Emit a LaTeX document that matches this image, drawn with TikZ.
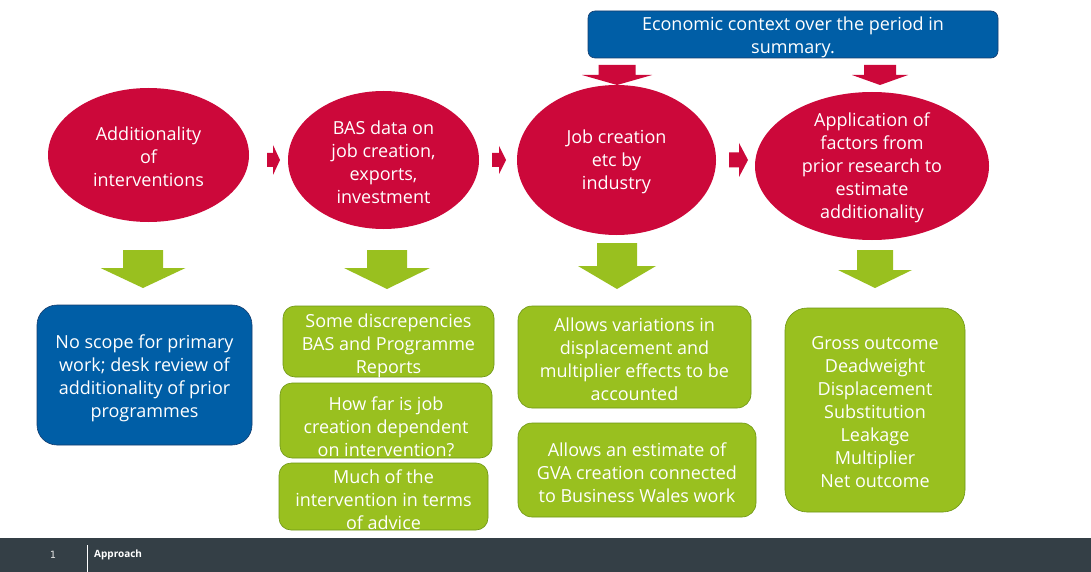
\documentclass[tikz,border=0pt]{standalone}
\usepackage{fontspec}
\setmainfont{Open Sans}
\setmonofont{DejaVu Sans Mono}
\usetikzlibrary{shapes.geometric}
\definecolor{flowred}{RGB}{204,8,58}
\definecolor{flowblue}{RGB}{0,94,166}
\definecolor{flowblueedge}{RGB}{20,60,110}
\definecolor{flowgreen}{RGB}{153,192,31}
\definecolor{flowgreenedge}{RGB}{110,150,20}
\definecolor{footbar}{RGB}{52,63,70}
% block arrow pointing down: style, centre x, top y, shaft half width, head half width, neck y, tip y
\newcommand\blockdown[7]{\fill[#1] (#2-#4,#3) -- (#2+#4,#3) -- (#2+#4,#6) -- (#2+#5,#6) -- (#2,#7) -- (#2-#5,#6) -- (#2-#4,#6) -- cycle;}
% block arrow pointing right: style, centre y, left x, shaft half height, head half height, neck x, tip x
\newcommand\blockright[7]{\fill[#1] (#3,#2-#4) -- (#6,#2-#4) -- (#6,#2-#5) -- (#7,#2) -- (#6,#2+#5) -- (#6,#2+#4) -- (#3,#2+#4) -- cycle;}
\tikzset{
  x=1pt, y=-1pt,
  every node/.style={font=\fontsize{18}{23}\selectfont, text=white, align=center},
  oval/.style={ellipse, fill=flowred, inner sep=0pt},
  bluebox/.style={rectangle, rounded corners=#1, fill=flowblue, draw=flowblueedge, line width=0.6pt, inner sep=0pt},
  greenbox/.style={rectangle, rounded corners=#1, fill=flowgreen, draw=flowgreenedge, line width=0.6pt, inner sep=0pt},
  label/.style={inner sep=0pt},
}
\begin{document}
\begin{tikzpicture}
\useasboundingbox (0,0) rectangle (1091,572);
\fill[white] (0,0) rectangle (1091,572);

% context banner
\node[bluebox=7pt, minimum width=410, minimum height=47] (context) at (793,34.5) {};
\node[label] at (793,37.5) {Economic context over the period in\\summary.};

% context arrows
\blockdown{flowred}{617}{65}{18.5}{35}{75}{85}
\blockdown{flowred}{880}{65}{16}{28}{75}{85}

% stage ovals
\node[oval, minimum width=201, minimum height=134] (e1) at (148.5,155) {};
\node[label] at (148.5,157) {Additionality\\of\\interventions};
\node[oval, minimum width=191, minimum height=138] (e2) at (383.5,160) {};
\node[label] at (383.5,162) {BAS data on\\job creation,\\exports,\\investment};
\node[oval, minimum width=199, minimum height=150] (e3) at (616.5,160) {};
\node[label] at (616.5,162) {Job creation\\etc by\\industry};
\node[oval, minimum width=234, minimum height=148] (e4) at (872,166) {};
\node[label] at (872,167.5) {Application of\\factors from\\prior research to\\estimate\\additionality};

% arrows between ovals
\blockright{flowred}{160}{267}{7}{15}{273}{280}
\blockright{flowred}{160}{492}{7}{14}{499}{506}
\blockright{flowred}{160}{729}{7.5}{17}{739}{748}

% arrows down to findings
\blockdown{flowgreen}{143}{250}{20}{42.5}{268}{288}
\blockdown{flowgreen}{387}{250}{20}{43}{268}{289}
\blockdown{flowgreen}{617}{243}{20}{39}{266}{289}
\blockdown{flowgreen}{875}{250}{18}{37}{270}{288}

% findings
\node[bluebox=20pt, minimum width=215, minimum height=140] (b1) at (144.5,375) {};
\node[label] at (144.5,378.5) {No scope for primary\\work; desk review of\\additionality of prior\\programmes};

\node[greenbox=12pt, minimum width=211, minimum height=71] (b2a) at (388.5,341.5) {};
\node[label] at (388.5,345.5) {Some discrepencies\\BAS and Programme\\Reports};
\node[greenbox=12pt, minimum width=212, minimum height=75] (b2b) at (386,420.5) {};
\node[label] at (386,426.5) {How far is job\\creation dependent\\on intervention?};
\node[greenbox=12pt, minimum width=209, minimum height=67] (b2c) at (383.5,496.5) {};
\node[label] at (383.5,500) {Much of the\\intervention in terms\\of advice};

\node[greenbox=14pt, minimum width=233, minimum height=102] (b3a) at (634.5,357) {};
\node[label] at (634.5,359.5) {Allows variations in\\displacement and\\multiplier effects to be\\accounted};
\node[greenbox=14pt, minimum width=238, minimum height=94] (b3b) at (637,470) {};
\node[label] at (637,472.5) {Allows an estimate of\\GVA creation connected\\to Business Wales work};

\node[greenbox=22pt, minimum width=180, minimum height=204] (b4) at (875,410) {};
\node[label] at (875,412) {Gross outcome\\Deadweight\\Displacement\\Substitution\\Leakage\\Multiplier\\Net outcome};

% footer
\fill[footbar] (0,538) rectangle (1091,572);
\draw[white, line width=1pt] (87,545) -- (87,572);
\node[font=\ttfamily\fontsize{10}{11}\selectfont, text=gray!20] (pagenum) at (53,555) {1};
\node[font=\bfseries\fontsize{10}{11}\selectfont, anchor=west, inner sep=0pt] (section) at (94,555) {Approach};
\end{tikzpicture}
\end{document}
